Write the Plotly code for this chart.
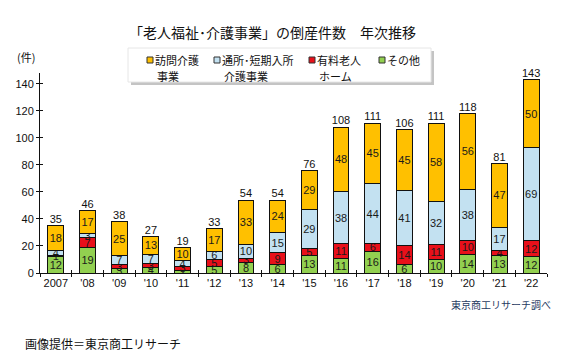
import plotly.graph_objects as go

# ---- data ----
years = ["2007", "'08", "'09", "'10", "'11", "'12", "'13", "'14",
         "'15", "'16", "'17", "'18", "'19", "'20", "'21", "'22"]
homon = [18, 17, 25, 13, 10, 17, 33, 24, 29, 48, 45, 45, 58, 56, 47, 50]   # 訪問介護事業
tsusho = [4, 3, 7, 7, 4, 6, 10, 15, 29, 38, 44, 41, 32, 38, 17, 69]       # 通所・短期入所介護事業
yuryo = [1, 7, 3, 3, 3, 5, 3, 9, 5, 11, 6, 14, 11, 10, 4, 12]             # 有料老人ホーム
sonota = [12, 19, 3, 4, 2, 5, 8, 6, 13, 11, 16, 6, 10, 14, 13, 12]        # その他
totals = [a + b + c + d for a, b, c, d in zip(homon, tsusho, yuryo, sonota)]
y_ticks = [0, 20, 40, 60, 80, 100, 120, 140]

series = [
    ("その他", sonota, "#92D050"),
    ("有料老人<br>ホーム", yuryo, "#E8101A"),
    ("通所･短期入所<br>介護事業", tsusho, "#C3E1F1"),
    ("訪問介護<br>事業", homon, "#FFC000"),
]
legend_items = [
    ("訪問介護", "事業", "#FFC000", 150),
    ("通所･短期入所", "介護事業", "#C3E1F1", 217),
    ("有料老人", "ホーム", "#E8101A", 312),
    ("その他", "", "#92D050", 382),
]

W, H = 564, 361
L, R, T, B = 40, 17, 73, 88
PW, PH = W - L - R, H - T - B


def px(x):
    return (x - L) / PW


def py(y):
    return (H - B - y) / PH


NUM_FONT = "Liberation Sans, Arial, Noto Sans CJK JP"
JP_FONT = "Noto Sans CJK JP, Liberation Sans"

fig = go.Figure()
for name, vals, col in series:
    fig.add_trace(go.Bar(
        x=years, y=vals, name=name, marker=dict(color=col, line=dict(color="#111", width=1)),
        width=0.5, text=[str(v) for v in vals], textposition="inside",
        insidetextanchor="middle", textangle=0, constraintext="none",
        textfont=dict(size=11, color="#1a1a1a", family=NUM_FONT),
        showlegend=False, hoverinfo="skip",
    ))

fig.add_trace(go.Scatter(
    x=years, y=totals, mode="text", text=[str(t) for t in totals],
    textposition="top center", textfont=dict(size=11, color="#111", family=NUM_FONT),
    xaxis="x2", yaxis="y2", showlegend=False, hoverinfo="skip", cliponaxis=False,
))

axis_common = dict(showgrid=False, zeroline=False, automargin=False)
fig.update_layout(
    width=W, height=H, barmode="stack",
    margin=dict(l=L, r=R, t=T, b=B, pad=0, autoexpand=False),
    paper_bgcolor="white", plot_bgcolor="white",
    showlegend=False,
    uniformtext=dict(mode="show", minsize=11),
    font=dict(family=NUM_FONT, size=11, color="#111"),
    xaxis=dict(type="category", range=[-0.5, 15.5], tickson="boundaries", tickangle=0,
               ticks="outside", ticklen=3, tickcolor="#111", tickwidth=1,
               showline=True, linecolor="#111", linewidth=1,
               tickfont=dict(size=11, family=NUM_FONT, color="#111"), **axis_common),
    xaxis2=dict(type="category", range=[-0.5, 15.5], overlaying="x", tickson="boundaries",
                ticks="inside", ticklen=3, tickcolor="#111", tickwidth=1, tickangle=0,
                showticklabels=False, showline=False, anchor="y", side="bottom", **axis_common),
    yaxis=dict(range=[0, 148], tickvals=y_ticks, ticks="outside", ticklen=3,
               tickcolor="#111", showline=True, linecolor="#111", linewidth=1,
               tickfont=dict(size=11, family=NUM_FONT, color="#111"), **axis_common),
    yaxis2=dict(range=[0, 148], tickvals=y_ticks, ticks="inside", ticklen=3,
                tickcolor="#111", overlaying="y", side="left", anchor="x",
                showticklabels=False, showline=False, **axis_common),
)

shapes = [
    dict(type="rect", xref="paper", yref="paper", x0=px(131), x1=px(434), y0=py(85), y1=py(51),
         fillcolor="#c4c4c4", line=dict(width=0), layer="above"),
    dict(type="rect", xref="paper", yref="paper", x0=px(128), x1=px(431), y0=py(82), y1=py(48),
         fillcolor="white", line=dict(color="#e6e6e6", width=1), layer="above"),
]
annotations = [
    dict(text="「老人福祉･介護事業」の倒産件数　年次推移", x=px(272), y=py(32), xref="paper", yref="paper",
         xanchor="center", yanchor="middle", showarrow=False, font=dict(size=14, family=JP_FONT, color="#111")),
    dict(text="(件)", x=px(15), y=py(57), xref="paper", yref="paper", xanchor="left", yanchor="middle",
         showarrow=False, font=dict(size=11, family=JP_FONT, color="#111")),
    dict(text="東京商工リサーチ調べ", x=px(553), y=py(304), xref="paper", yref="paper", xanchor="right",
         yanchor="middle", showarrow=False, font=dict(size=10, family=JP_FONT, color="#1F3A5F")),
    dict(text="画像提供＝東京商工リサーチ", x=px(23), y=py(343), xref="paper", yref="paper", xanchor="left",
         yanchor="middle", showarrow=False, font=dict(size=12, family=JP_FONT, color="#111")),
]
for l1, l2, col, mx in legend_items:
    shapes.append(dict(type="rect", xref="paper", yref="paper", xsizemode="pixel", ysizemode="pixel",
                       xanchor=px(mx), yanchor=py(60), x0=-3, x1=3, y0=-3, y1=3,
                       fillcolor=col, line=dict(color="#333", width=1), layer="above"))
    annotations.append(dict(text=l1, x=px(mx + 3), y=py(60), xref="paper", yref="paper", xanchor="left",
                            yanchor="middle", showarrow=False, font=dict(size=11, family=JP_FONT, color="#111")))
    if l2:
        annotations.append(dict(text=l2, x=px(mx + 5), y=py(76), xref="paper", yref="paper", xanchor="left",
                                yanchor="middle", showarrow=False, font=dict(size=11, family=JP_FONT, color="#111")))
fig.update_layout(shapes=shapes, annotations=annotations)

fig.write_html("out.html", config={"displayModeBar": False, "staticPlot": True},
               post_script="document.body.style.margin='0';document.body.style.padding='0';")
